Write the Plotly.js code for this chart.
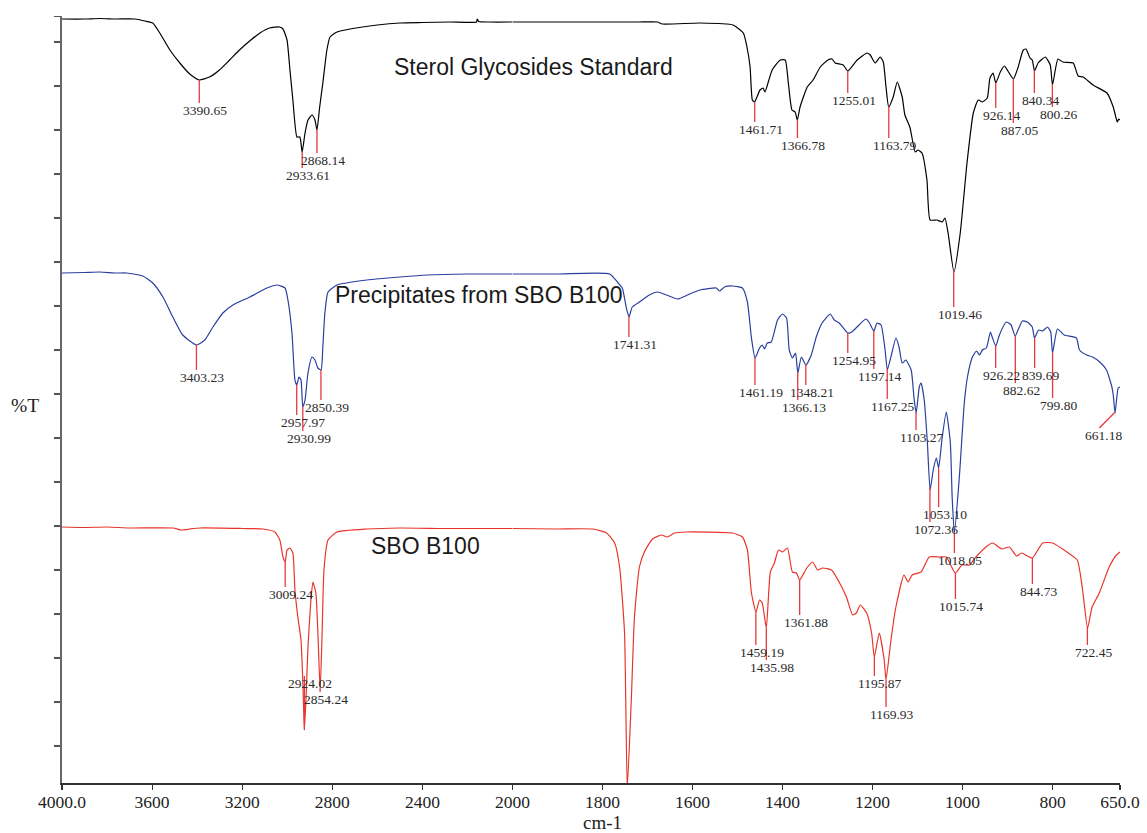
<!DOCTYPE html>
<html><head><meta charset="utf-8">
<script src="https://cdn.plot.ly/plotly-3.0.1.min.js"></script>
<style>html,body{margin:0;padding:0;background:#fff;}#chart{width:1147px;height:833px;}</style>
</head><body><div id="chart"></div>
<script>
// ---- Sterol Glycosides Standard (wavenumber cm-1, %T offset units) ----
const sgW = [4000,3900,3832,3760,3677,3632,3597,3566,3521,3477,3433,3391,3345,3301,3256,3212,3167,3121,3079,3034,3019,3001,2988,2975,2957,2944,2934,2921,2908,2890,2877,2868,2856,2842,2824,2810,2779,2721,2600,2499,2400,2277,2160,2157,2150,2100,2000,
 1894,1805,1720,1678,1667,1583,1510,1487,1479,1472,1467,1462,1450,1443,1439,1423,1405,1394,1387,1379,1372,1367,1361,1345,1332,1316,1299,1290,1283,1265,1255,1234,1212,1205,1194,1183,1176,1170,1164,1154,1145,1134,1128,1117,1105,1099,1090,1079,1072,1057,1045,1039,1032,1019,1005,990,976,965,956,945,939,932,926,916,907,899,887,877,865,859,850,845,840,832,816,805,800,788,777,754,743,732,710,679,665,656,653,650];
const sgT = [76.4,76.4,76.45,76.4,76.4,76.2,76.0,75.0,73.3,72.0,70.9,70.3,70.6,71.3,72.3,73.3,74.2,75.0,75.5,75.6,75.4,74.3,71.3,68.3,64.6,64.6,63.1,65.0,66.3,66.8,66.3,65.3,67.6,70.0,73.3,74.6,75.1,75.4,75.8,76.0,76.05,76.1,76.1,76.4,76.15,76.1,76.1,
 76.1,76.1,76.1,76.1,75.9,76.0,75.8,75.0,73.6,71.6,68.3,68.1,69.3,69.5,69.1,71.3,72.3,72.3,70.0,67.3,67.1,66.3,67.6,69.6,70.3,71.6,72.3,72.4,72.0,71.8,71.2,72.3,73.0,72.8,72.0,72.6,72.1,69.6,67.6,68.6,70.1,68.6,66.8,65.6,63.1,63.3,63.0,60.3,56.3,56.3,56.1,56.5,55.0,51.1,55.0,62.0,67.0,68.3,68.1,68.5,70.5,71.0,70.0,71.1,71.7,71.2,70.4,71.5,73.3,73.4,72.5,72.3,71.2,72.0,72.6,71.8,69.8,72.4,72.1,72.0,70.7,70.6,69.8,69.0,67.6,66.1,66.4,66.3];

// ---- Precipitates from SBO B100 ----
const ppW = [4000,3900,3832,3760,3712,3641,3597,3552,3508,3464,3403,3366,3330,3286,3241,3166,3090,3046,3010,2997,2979,2966,2958,2948,2939,2931,2921,2908,2890,2877,2864,2850,2842,2833,2819,2779,2646,2499,2379,2200,2000,
 1900,1784,1767,1756,1747,1741,1734,1718,1696,1678,1658,1633,1611,1584,1547,1540,1529,1511,1489,1478,1469,1461,1451,1445,1440,1434,1425,1411,1400,1391,1385,1378,1371,1366,1358,1348,1336,1325,1312,1294,1285,1274,1255,1246,1230,1215,1208,1197,1190,1181,1172,1167,1157,1148,1141,1134,1126,1114,1108,1103,1096,1092,1085,1078,1072,1065,1058,1053,1045,1036,1027,1023,1018,1007,996,989,978,969,962,956,947,938,934,926,918,903,892,883,867,856,845,840,831,822,811,804,800,789,774,747,740,724,711,695,680,668,665,661,657,654,650];
const ppT = [51.0,51.05,51.1,51.0,51.0,50.7,50.0,48.6,46.6,44.8,43.8,44.3,45.6,47.0,47.8,48.6,49.5,49.8,49.5,48.3,45.0,40.3,39.8,40.6,40.3,37.6,38.3,41.0,42.6,42.3,41.5,41.3,43.6,47.0,49.1,49.8,50.3,50.6,50.8,50.9,50.9,
 50.9,50.9,50.1,49.5,47.5,46.6,47.6,48.1,48.8,49.1,48.8,48.4,48.8,49.3,49.5,49.2,49.6,49.7,49.5,48.1,44.5,42.5,43.5,43.8,43.4,44.0,44.1,46.3,46.9,46.5,43.3,42.5,43.0,41.0,42.6,41.8,42.8,44.6,46.0,46.9,46.3,46.0,45.0,45.1,45.8,46.4,46.1,45.2,46.0,45.8,43.3,41.3,43.0,44.5,43.6,42.0,42.3,41.3,38.6,37.0,39.6,40.0,38.3,34.0,29.3,31.3,32.5,31.5,34.6,37.1,34.0,28.6,25.0,30.6,38.0,40.6,42.6,43.2,42.8,43.3,43.5,45.1,44.6,43.7,44.8,46.1,45.8,44.7,46.2,46.1,45.6,44.5,45.3,45.2,45.6,45.1,43.0,45.4,44.8,44.5,43.3,42.8,42.6,42.1,41.3,39.6,38.8,37.0,38.6,39.5,39.6];

// ---- SBO B100 ----
const sboW = [4000,3900,3800,3700,3508,3468,3432,3388,3200,3108,3055,3033,3019,3009,3001,2988,2975,2966,2953,2939,2930,2924,2917,2908,2895,2886,2873,2864,2854,2846,2837,2819,2779,2646,2499,2300,2000,
 1900,1822,1791,1773,1762,1751,1745,1736,1729,1718,1707,1689,1669,1656,1640,1614,1511,1489,1478,1469,1459,1451,1445,1436,1427,1418,1409,1400,1389,1378,1369,1362,1346,1333,1322,1311,1291,1273,1258,1244,1236,1227,1213,1202,1196,1185,1174,1170,1159,1148,1130,1121,1112,1092,1074,1051,1036,1016,1001,985,970,948,933,913,896,880,869,845,822,800,768,745,734,722,712,696,674,658,650];
const sboT = [25.6,25.55,25.6,25.5,25.5,25.3,25.4,25.5,25.45,25.4,25.1,24.3,22.6,22.1,23.3,23.5,23.0,19.3,16.6,14.3,9.6,5.3,8.3,13.6,18.3,20.1,19.0,15.0,9.3,14.3,21.3,24.3,25.1,25.4,25.5,25.45,25.45,
 25.4,25.4,25.0,24.0,21.6,15.0,-0.5,8.3,16.6,21.6,23.1,24.4,24.8,24.6,25.0,25.1,25.0,24.6,23.3,19.0,17.1,18.3,18.0,15.5,21.1,22.0,23.3,23.1,23.5,21.1,21.0,20.3,21.5,22.1,21.3,21.5,21.3,20.0,18.6,16.8,17.0,17.8,17.0,15.0,12.6,15.0,12.3,10.3,14.3,17.6,20.8,20.1,20.8,21.1,22.6,22.6,22.6,21.0,21.8,21.8,22.6,23.6,24.0,23.4,23.6,22.7,23.0,22.5,24.0,24.0,23.1,22.3,19.6,15.5,17.6,19.0,21.6,22.8,23.1];

// ---- peak labels ----
const sgPeaks  = ["3390.65","2933.61","2868.14","1461.71","1366.78","1255.01","1163.79","1019.46","926.14","887.05","840.34","800.26"];
const ppPeaks  = ["3403.23","2957.97","2930.99","2850.39","1741.31","1461.19","1366.13","1348.21","1254.95","1197.14","1167.25","1103.27","1072.36","1053.10","1018.05","926.22","882.62","839.69","799.80","661.18"];
const sboPeaks = ["3009.24","2924.02","2854.24","1459.19","1435.98","1361.88","1195.87","1169.93","1015.74","844.73","722.45"];

// tick labels
const xTicksHi = [4000,3600,3200,2800,2400];
const xTickTextHi = ["4000.0","3600","3200","2800","2400"];
const xTicksLo = [2000,1800,1600,1400,1200,1000,800,650];
const xTickTextLo = ["2000","1800","1600","1400","1200","1000","800","650.0"];

// label placement (layout, %T of label top)
const sgLabelY  = [68.0,61.5,63.0,66.1,64.5,69.0,64.5,47.6,67.5,66.0,69.0,67.6];
const ppLabelY  = [41.3,36.8,35.2,38.3,44.6,39.8,38.3,39.8,43.0,41.4,38.4,35.3,26.1,27.6,23.0,41.5,40.0,41.5,38.5,35.5];
const sboLabelY = [19.6,10.7,9.1,13.8,12.3,16.8,10.7,7.6,18.4,19.9,13.8];
const ppLabelXOverride = {"661.18": 696};

const SPLIT = 2000, D = 450.5/1058;
function seg(w, t, hi){ const x=[], y=[]; for(let i=0;i<w.length;i++){ if(hi ? w[i]>=SPLIT : w[i]<=SPLIT){ x.push(w[i]); y.push(t[i]); } } return {x,y}; }
function interp(w, t, x){ for(let i=0;i<w.length-1;i++){ if((w[i]-x)*(w[i+1]-x)<=0){ const f=(x-w[i])/(w[i+1]-w[i]); return t[i]+f*(t[i+1]-t[i]); } } return t[t.length-1]; }
const xr = w => (w >= SPLIT ? 'x' : 'x2');

const specs = [
  {w:sgW, t:sgT, color:'#000000', peaks:sgPeaks, ly:sgLabelY, ox:{}},
  {w:ppW, t:ppT, color:'#2b3f9e', peaks:ppPeaks, ly:ppLabelY, ox:ppLabelXOverride},
  {w:sboW, t:sboT, color:'#e8352b', peaks:sboPeaks, ly:sboLabelY, ox:{}}
];
const data = [], shapes = [], annotations = [];
const labFont = {family:'Liberation Serif, Times New Roman, serif', size:13.5, color:'#2a2a2a'};
specs.forEach(s => {
  const a = seg(s.w, s.t, true), b = seg(s.w, s.t, false);
  const ln = {color:s.color, width:1.2, shape:'spline', smoothing:0.5};
  data.push({x:a.x, y:a.y, xaxis:'x', yaxis:'y', mode:'lines', line:ln, hoverinfo:'skip', showlegend:false});
  data.push({x:b.x, y:b.y, xaxis:'x2', yaxis:'y', mode:'lines', line:ln, hoverinfo:'skip', showlegend:false});
  s.peaks.forEach((lab, i) => {
    const pw = parseFloat(lab), pv = interp(s.w, s.t, pw);
    const ex = (s.ox[lab] !== undefined) ? s.ox[lab] : pw;
    if (xr(pw) === xr(ex)) {
      shapes.push({type:'line', xref:xr(pw), yref:'y', x0:pw, x1:ex, y0:pv, y1:s.ly[i], line:{color:'#e8383a', width:1.3}, layer:'above'});
    }
    annotations.push({text:lab, x:ex, y:s.ly[i], xref:xr(ex), yref:'y', showarrow:false, xanchor:'center', yanchor:'top', xshift:(ex!==pw?4:6), yshift:2, font:labFont});
  });
});

const titleFont = {family:'Liberation Sans, Arial, sans-serif', size:23, color:'#1a1a1a'};
annotations.push({text:'Sterol Glycosides Standard', xref:'paper', yref:'paper', x:0.4456, y:0.9335, showarrow:false, xanchor:'center', yanchor:'middle', font:titleFont});
annotations.push({text:'Precipitates from SBO B100', xref:'paper', yref:'paper', x:0.394, y:0.6362, showarrow:false, xanchor:'center', yanchor:'middle', font:titleFont});
annotations.push({text:'SBO B100', xref:'paper', yref:'paper', x:0.3435, y:0.309, showarrow:false, xanchor:'center', yanchor:'middle', font:titleFont});
annotations.push({text:'%T', xref:'paper', yref:'paper', x:-0.035, y:0.4928, showarrow:false, xanchor:'center', yanchor:'middle', font:{family:'Liberation Serif, serif', size:19.5, color:'#222'}});
annotations.push({text:'cm-1', xref:'paper', yref:'paper', x:0.5104, y:0, yshift:-39.5, showarrow:false, xanchor:'center', yanchor:'middle', borderpad:0, font:{family:'Liberation Serif, serif', size:19, color:'#222'}});

const yTicks = [];
for (let k=0;k<=16;k++) yTicks.push(+(3.7+4.4*k).toFixed(2));
yTicks.push(76.65);

const xCommon = {showline:true, linecolor:'#333', linewidth:1.5, ticks:'outside', ticklen:5, tickwidth:1.2, tickcolor:'#333', showgrid:false, zeroline:false, fixedrange:true, anchor:'y', ticklabelstandoff:-3,
  tickfont:{family:'Liberation Serif, Times New Roman, serif', size:17.5, color:'#222'}};
const layout = {
  width:1147, height:833, margin:{l:62, r:27, t:16, b:50}, paper_bgcolor:'#ffffff', plot_bgcolor:'#ffffff', showlegend:false,
  xaxis: Object.assign({}, xCommon, {domain:[0, D], range:[4000, 2000], tickmode:'array', tickvals:xTicksHi, ticktext:xTickTextHi}),
  xaxis2: Object.assign({}, xCommon, {domain:[D, 1], range:[2000, 650], tickmode:'array', tickvals:xTicksLo, ticktext:xTickTextLo}),
  yaxis: {range:[0, 76.7], showline:true, linecolor:'#666', linewidth:2, ticks:'outside', ticklen:6, tickwidth:1.2, tickcolor:'#555', tickmode:'array', tickvals:yTicks, showticklabels:false, showgrid:false, zeroline:false, fixedrange:true, anchor:'x'},
  shapes: shapes, annotations: annotations
};
Plotly.newPlot('chart', data, layout, {displayModeBar:false, staticPlot:true});
</script></body></html>
